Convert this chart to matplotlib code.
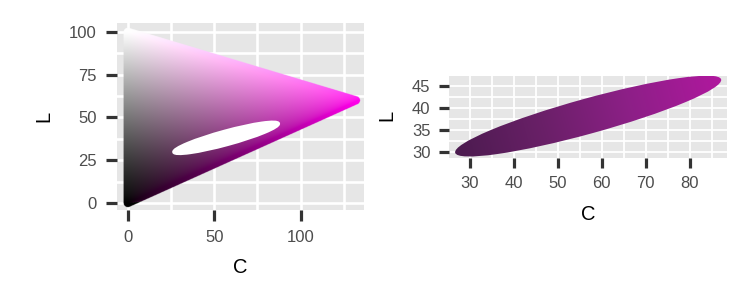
import numpy as np
import matplotlib
matplotlib.use("Agg")
import matplotlib.pyplot as plt
from matplotlib.patches import Ellipse
from matplotlib.path import Path
from matplotlib.colors import LinearSegmentedColormap

plt.rcParams['font.family'] = ['Liberation Sans', 'DejaVu Sans']

# ---- data ----
hue = 315.0                      # HCL hue of the colour space shown
tri_C = [0, 0, 132]              # gamut triangle vertices (chroma)
tri_L = [0, 100, 60]             # gamut triangle vertices (luminance)
ell_C = 56.9                     # ellipse centre, chroma
ell_L = 38.1                     # ellipse centre, luminance
ell_a = 31.4                     # semi-major axis
ell_b = 4.0                      # semi-minor axis
ell_angle = 15.4                 # degrees
ell_colors = ['#4B1B4F', '#6A2068', '#8E1F88', '#B0189E']   # colours along the ellipse

left_xticks = [0, 50, 100]
left_yticks = [0, 25, 50, 75, 100]
right_xticks = [30, 40, 50, 60, 70, 80]
right_yticks = [30, 35, 40, 45]


def hcl_to_rgb(L, C, H):
    L = np.asarray(L, float)
    C = np.asarray(C, float)
    h = np.deg2rad(H)
    u = C * np.cos(h)
    v = C * np.sin(h)
    Xn, Yn, Zn = 95.047, 100.0, 108.883
    un = 4 * Xn / (Xn + 15 * Yn + 3 * Zn)
    vn = 9 * Yn / (Xn + 15 * Yn + 3 * Zn)
    Ls = np.maximum(L, 1e-6)
    Y = np.where(Ls > 8, ((Ls + 16) / 116) ** 3, Ls / 903.2963)
    up = u / (13 * Ls) + un
    vp = v / (13 * Ls) + vn
    X = Y * 9 * up / (4 * vp)
    Z = Y * (12 - 3 * up - 20 * vp) / (4 * vp)
    M = np.array([[3.2404542, -1.5371385, -0.4985314],
                  [-0.9692660, 1.8760108, 0.0415560],
                  [0.0556434, -0.2040259, 1.0572252]])
    rgb = np.stack([X, Y, Z], -1) @ M.T
    rgb = np.clip(rgb, 0, 1)
    rgb = np.where(rgb <= 0.0031308, 12.92 * rgb, 1.055 * rgb ** (1 / 2.4) - 0.055)
    return np.clip(rgb, 0, 1)


def style_axes(ax, xt, yt, xgrid, ygrid, glw, ticklen, tickw):
    ax.set_facecolor('#E6E6E6')
    for s in ax.spines.values():
        s.set_visible(False)
    ax.set_xticks(xt)
    ax.set_yticks(yt)
    for g in xgrid:
        ax.axvline(g, color='white', lw=glw, zorder=0.5)
    for g in ygrid:
        ax.axhline(g, color='white', lw=glw, zorder=0.5)
    ax.tick_params(length=ticklen, width=tickw, color='#333333',
                   labelcolor='#4D4D4D', labelsize=12, pad=6.5)


fig = plt.figure(figsize=(7.5, 3.0), dpi=100)

# ---------------- left panel ----------------
ax1 = fig.add_axes([0.156, 0.30, 0.3293, 0.6233])
xl1 = (-6.2, 136.6)
yl1 = (-4.0, 105.1)
ax1.set_xlim(*xl1)
ax1.set_ylim(*yl1)
style_axes(ax1, left_xticks, left_yticks,
           np.arange(0, 130, 25), np.arange(0, 101, 12.5), 1.9, 8, 2.3)

nx, ny = 900, 700
cc = np.linspace(xl1[0], xl1[1], nx)
ll = np.linspace(yl1[1], yl1[0], ny)
CC, LL = np.meshgrid(cc, ll)
poly = np.column_stack([tri_C, tri_L]).astype(float)
inside = Path(poly).contains_points(np.column_stack([CC.ravel(), LL.ravel()])).reshape(CC.shape)
r = 2.4
dmin = np.full(CC.shape, np.inf)
for i in range(3):
    p, q = poly[i], poly[(i + 1) % 3]
    d = q - p
    t = np.clip(((CC - p[0]) * d[0] + (LL - p[1]) * d[1]) / (d @ d), 0, 1)
    dist = np.hypot(CC - (p[0] + t * d[0]), LL - (p[1] + t * d[1]))
    dmin = np.minimum(dmin, dist)
mask = inside | (dmin <= r)
rgb = hcl_to_rgb(np.clip(LL, 0, 100), np.clip(CC, 0, None), hue)
rgba = np.dstack([rgb, mask.astype(float)])
ax1.imshow(rgba, extent=(xl1[0], xl1[1], yl1[0], yl1[1]), origin='upper',
           aspect='auto', interpolation='antialiased', zorder=1)
ax1.add_patch(Ellipse((ell_C, ell_L), 2 * ell_a, 2 * ell_b, angle=ell_angle,
                      facecolor='white', edgecolor='white', lw=2.2, zorder=2))
ax1.set_xlabel('C', fontsize=14.5)
ax1.set_ylabel('L', fontsize=14.5)
ax1.xaxis.set_label_coords(0.498, -0.305)
ax1.xaxis.label.set_va('center')
ax1.yaxis.set_label_coords(-0.297, 0.503)
ax1.yaxis.label.set_va('center')

# ---------------- right panel ----------------
ax2 = fig.add_axes([0.599, 0.4743, 0.3703, 0.2733])
xl2 = (25.28, 88.5)
yl2 = (28.64, 47.27)
ax2.set_xlim(*xl2)
ax2.set_ylim(*yl2)
style_axes(ax2, right_xticks, right_yticks,
           np.arange(30, 86, 5), np.arange(30, 47.3, 2.5), 1.3, 7, 2.3)

cc2 = np.linspace(xl2[0], xl2[1], 900)
ll2 = np.linspace(yl2[1], yl2[0], 300)
CC2, LL2 = np.meshgrid(cc2, ll2)
th = np.deg2rad(ell_angle)
tpar = ((CC2 - ell_C) * np.cos(th) + (LL2 - ell_L) * np.sin(th)) / ell_a
tpar = np.clip((tpar + 1) / 2, 0, 1)
cmap = LinearSegmentedColormap.from_list('ell', ell_colors)
im = ax2.imshow(tpar, cmap=cmap, vmin=0, vmax=1,
                extent=(xl2[0], xl2[1], yl2[0], yl2[1]), origin='upper',
                aspect='auto', interpolation='antialiased', zorder=1)
ell = Ellipse((ell_C, ell_L), 2 * ell_a, 2 * ell_b, angle=ell_angle,
              facecolor='none', edgecolor='none', transform=ax2.transData)
ax2.add_patch(ell)
im.set_clip_path(ell)
ax2.set_xlabel('C', fontsize=14.5)
ax2.set_ylabel('L', fontsize=14.5)
ax2.xaxis.set_label_coords(0.5, -0.687)
ax2.xaxis.label.set_va('center')
ax2.yaxis.set_label_coords(-0.2246, 0.51)
ax2.yaxis.label.set_va('center')

fig.savefig('out.png', dpi=100)
